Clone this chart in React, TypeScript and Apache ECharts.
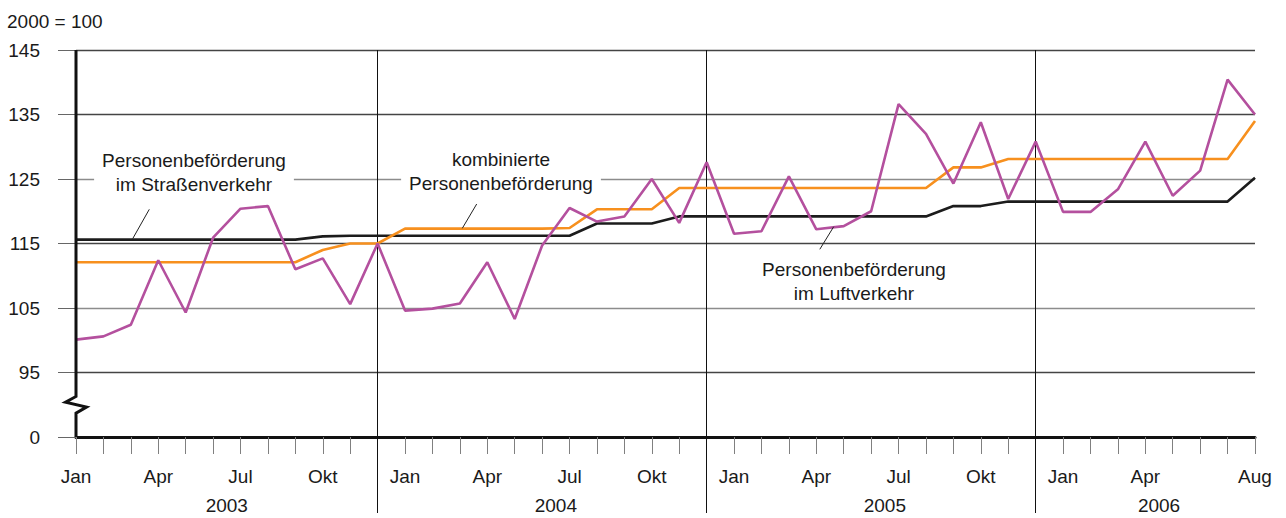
import React, { useEffect, useRef } from "react";
import * as echarts from "echarts";

// ---- data ----
const monthNames = ["Jan", "Feb", "Mär", "Apr", "Mai", "Jun", "Jul", "Aug", "Sep", "Okt", "Nov", "Dez"];
const years = ["2003", "2004", "2005", "2006"];
const categories: string[] = years.flatMap((y) => monthNames.map((m) => `${m} ${y}`)).slice(0, 44);
const labeledMonths = ["Jan", "Apr", "Jul", "Okt"];

// Personenbeförderung im Straßenverkehr (black)
const strasse = [
  115.6, 115.6, 115.6, 115.6, 115.6, 115.6, 115.6, 115.6, 115.6, 116.1, 116.2, 116.2,
  116.2, 116.2, 116.2, 116.2, 116.2, 116.2, 116.2, 118.1, 118.1, 118.1, 119.2, 119.2,
  119.2, 119.2, 119.2, 119.2, 119.2, 119.2, 119.2, 119.2, 120.8, 120.8, 121.5, 121.5,
  121.5, 121.5, 121.5, 121.5, 121.5, 121.5, 121.5, 125.2,
];
// kombinierte Personenbeförderung (orange)
const kombiniert = [
  112.1, 112.1, 112.1, 112.1, 112.1, 112.1, 112.1, 112.1, 112.1, 114.0, 115.0, 115.0,
  117.3, 117.3, 117.3, 117.3, 117.3, 117.3, 117.4, 120.3, 120.3, 120.3, 123.6, 123.6,
  123.6, 123.6, 123.6, 123.6, 123.6, 123.6, 123.6, 123.6, 126.8, 126.8, 128.1, 128.1,
  128.1, 128.1, 128.1, 128.1, 128.1, 128.1, 128.1, 134.0,
];
// Personenbeförderung im Luftverkehr (purple)
const luft = [
  100.1, 100.6, 102.4, 112.4, 104.3, 115.9, 120.4, 120.8, 111.0, 112.7, 105.6, 115.0,
  104.6, 104.9, 105.7, 112.1, 103.3, 114.7, 120.5, 118.4, 119.2, 125.0, 118.2, 127.6,
  116.5, 116.9, 125.4, 117.2, 117.7, 120.0, 136.6, 132.0, 124.3, 133.8, 121.9, 130.8,
  119.9, 119.9, 123.4, 130.8, 122.4, 126.3, 140.4, 135.0,
];

const yMin = 85; // shown as "0" (broken axis)
const yMax = 145;
const yStep = 10;
const yBreakValue = 90;
const yMinLabel = "0";

const FONT = '"Liberation Sans", Arial, sans-serif';
const TXT = "#1a1a1a";

export default function App() {
  const ref = useRef<HTMLDivElement>(null);

  useEffect(() => {
    if (!ref.current) return;
    const chart = echarts.init(ref.current, undefined, { renderer: "svg" });
    const lastIdx = categories.length - 1;
    chart.setOption({
      animation: false,
      backgroundColor: "#ffffff",
      grid: { left: 76, right: 31, top: 50, bottom: 81 },
      xAxis: [
        {
          type: "category",
          data: categories,
          boundaryGap: false,
          axisLine: { show: true, lineStyle: { color: "#111", width: 3 } },
          axisTick: { show: true, interval: 0, length: 17, lineStyle: { color: "#808080", width: 1 } },
          axisLabel: {
            interval: (i: number, v: string) =>
              i === lastIdx || (labeledMonths.includes(v.split(" ")[0]) && i < lastIdx - 1),
            formatter: (v: string) => v.split(" ")[0],
            showMaxLabel: true,
            showMinLabel: true,
            margin: 30,
            fontSize: 19,
            fontFamily: FONT,
            color: TXT,
          },
          splitLine: {
            show: true,
            interval: (i: number) => i % 12 === 11,
            lineStyle: { color: "#111", width: 1 },
          },
        },
        {
          type: "category",
          data: categories,
          boundaryGap: false,
          position: "bottom",
          axisLine: { show: false },
          axisLabel: { show: false },
          axisTick: {
            show: true,
            interval: (i: number) => i % 12 === 11,
            length: 76,
            lineStyle: { color: "#111", width: 1 },
          },
          splitLine: { show: false },
        },
      ],
      yAxis: {
        type: "value",
        min: yMin,
        max: yMax,
        interval: yStep,
        axisLine: { show: false },
        axisTick: { show: true, length: 18, lineStyle: { color: "#666", width: 1 } },
        axisLabel: {
          margin: 36,
          fontSize: 19,
          fontFamily: FONT,
          color: TXT,
          formatter: (v: number) => (v === yMin ? yMinLabel : String(v)),
        },
        splitLine: {
          show: true,
          lineStyle: {
            color: ["#333", "#444", "#8c8c8c", "#444", "#8c8c8c", "#444", "#444"],
            width: 1.3,
          },
        },
      },
      series: [
        {
          name: "Personenbeförderung im Straßenverkehr",
          type: "line",
          data: strasse,
          symbol: "none",
          lineStyle: { color: "#1c1c1c", width: 2.6 },
          z: 3,
        },
        {
          name: "kombinierte Personenbeförderung",
          type: "line",
          data: kombiniert,
          symbol: "none",
          lineStyle: { color: "#f7901e", width: 2.6 },
          z: 4,
        },
        {
          name: "Personenbeförderung im Luftverkehr",
          type: "line",
          data: luft,
          symbol: "none",
          lineStyle: { color: "#b4509e", width: 2.6 },
          z: 5,
        },
      ],
    });

    const px = (i: number, v: number) => chart.convertToPixel({ gridIndex: 0 }, [i, v]) as number[];
    const [x0, yTop] = px(0, yMax);
    const [, yBot] = px(0, yMin);
    const [, yMid] = px(0, yBreakValue);

    const yearTexts = years.map((y, yi) => {
      const first = yi * 12;
      const last = Math.min(yi * 12 + 11, lastIdx);
      const cx = (px(first, yMin)[0] + px(last, yMin)[0]) / 2;
      return {
        type: "text",
        x: cx,
        y: yBot + 68,
        z: 100,
        style: {
          text: y,
          fill: TXT,
          font: `19px ${FONT}`,
          align: "center",
          textAlign: "center",
          verticalAlign: "middle",
          textVerticalAlign: "middle",
        },
      };
    });

    const note = (text: string, x: number, y: number) => ({
      type: "text",
      x,
      y,
      z: 100,
      style: {
        text,
        fill: TXT,
        font: `19px ${FONT}`,
        align: "center",
        textAlign: "center",
        verticalAlign: "middle",
        textVerticalAlign: "middle",
        lineHeight: 24,
        backgroundColor: "#ffffff",
        padding: [0, 8],
      },
    });
    const leader = (x1: number, y1: number, x2: number, y2: number) => ({
      type: "line",
      z: 100,
      shape: { x1, y1, x2, y2 },
      style: { stroke: "#222", lineWidth: 1 },
    });

    chart.setOption({
      graphic: [
        {
          type: "text",
          x: 7,
          y: 21,
          z: 100,
          style: {
            text: "2000 = 100",
            fill: TXT,
            font: `19px ${FONT}`,
            align: "left",
            textAlign: "left",
            verticalAlign: "middle",
            textVerticalAlign: "middle",
          },
        },
        {
          type: "polyline",
          z: 100,
          shape: {
            points: [
              [x0, yTop],
              [x0, yMid - 8.3],
              [x0 - 10.5, yMid - 2.6],
              [x0 + 10.5, yMid + 2.4],
              [x0, yMid + 8.4],
              [x0, yBot],
            ],
          },
          style: { stroke: "#111", lineWidth: 3, fill: "none" },
        },
        ...yearTexts,
        note("Personenbeförderung\nim Straßenverkehr", 194, 172),
        note("kombinierte\nPersonenbeförderung", 501, 171),
        note("Personenbeförderung\nim Luftverkehr", 854, 281),
        leader(149.3, 209.3, 132.7, 238.7),
        leader(476.7, 204, 462.3, 228.3),
        leader(833.7, 226.7, 819.8, 249.3),
      ],
    });

    return () => chart.dispose();
  }, []);

  return (
    <div
      ref={ref}
      style={{ position: "absolute", left: 0, top: 0, width: 1286, height: 518 }}
    />
  );
}
